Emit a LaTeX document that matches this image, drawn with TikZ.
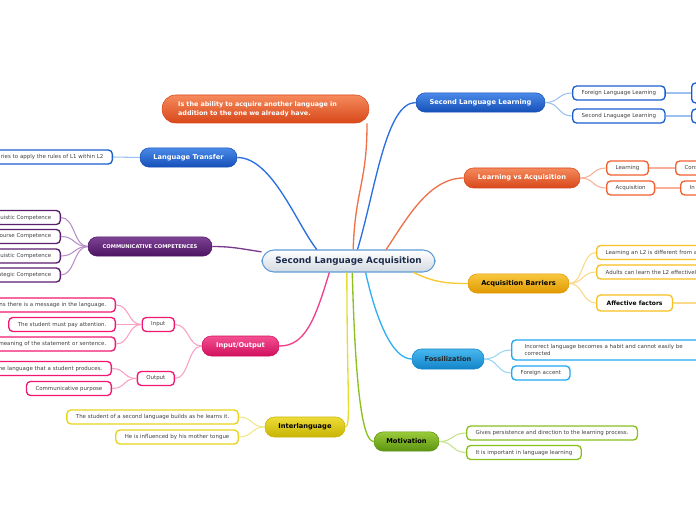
\documentclass[tikz,border=0pt]{standalone}
\usepackage{fontspec}
\setmainfont{DejaVu Sans}

\definecolor{cenbot}{HTML}{D3DAE2}
\definecolor{cenline}{HTML}{5D9AD6}
\definecolor{centext}{HTML}{1C2C4C}
\definecolor{bluetop}{HTML}{4A8AE8}
\definecolor{bluebot}{HTML}{1550B8}
\definecolor{blueline}{HTML}{2A6EE0}
\definecolor{bluelight}{HTML}{9CC0F0}
\definecolor{blueleaf}{HTML}{1A5FD0}
\definecolor{orgtop}{HTML}{F58A5C}
\definecolor{orgbot}{HTML}{D8481A}
\definecolor{orgline}{HTML}{F07048}
\definecolor{orglight}{HTML}{F8B098}
\definecolor{orgleaf}{HTML}{F06030}
\definecolor{goldtop}{HTML}{F8C840}
\definecolor{goldbot}{HTML}{E09800}
\definecolor{goldline}{HTML}{F8C830}
\definecolor{goldlight}{HTML}{FBD88A}
\definecolor{goldleaf}{HTML}{F8C020}
\definecolor{cyantop}{HTML}{48B8F0}
\definecolor{cyanbot}{HTML}{1284C8}
\definecolor{cyanline}{HTML}{30B0F0}
\definecolor{cyanlight}{HTML}{98D6F8}
\definecolor{cyanleaf}{HTML}{20A8F0}
\definecolor{greentop}{HTML}{9ACB3A}
\definecolor{greenbot}{HTML}{5C9410}
\definecolor{greenline}{HTML}{8CC020}
\definecolor{greenlight}{HTML}{C4E08A}
\definecolor{greenleaf}{HTML}{88C020}
\definecolor{yeltop}{HTML}{EEDC38}
\definecolor{yelbot}{HTML}{C8B404}
\definecolor{yelline}{HTML}{E8DC30}
\definecolor{yellight}{HTML}{F0E888}
\definecolor{yelleaf}{HTML}{E8D41C}
\definecolor{pinktop}{HTML}{F45092}
\definecolor{pinkbot}{HTML}{D0105E}
\definecolor{pinkline}{HTML}{F0408A}
\definecolor{pinklight}{HTML}{F8A0C4}
\definecolor{pinkleaf}{HTML}{F01870}
\definecolor{purtop}{HTML}{7E4294}
\definecolor{purbot}{HTML}{4C1462}
\definecolor{purline}{HTML}{7A3A8E}
\definecolor{purlight}{HTML}{B890C8}
\definecolor{purleaf}{HTML}{5A1D6E}

\tikzset{every picture/.style={line width=0.75pt}}
\tikzset{
  hub/.style={rounded corners=9pt, draw=cenline, line width=0.8pt, top color=white, bottom color=cenbot, text=centext, font=\fontsize{6.6}{8}\selectfont\bfseries, minimum height=16.5pt, minimum width=129.75pt},
  topic/.style 2 args={rounded corners=7pt, draw=#2, line width=0.4pt, top color=#1, bottom color=#2, minimum height=14.5pt, inner xsep=4pt, font=\fontsize{5}{6}\selectfont\bfseries},
  leaf/.style={draw=#1, fill=white, rounded corners=3pt, line width=1pt, minimum height=10.5pt, inner xsep=6.75pt, inner ysep=1pt, text=black!75, font=\fontsize{4.1}{5.5}\selectfont},
  cutleft/.style={text width=100pt, align=right},
  cutright/.style={text width=100pt, align=left},
  link/.style={draw=#1, line width=1pt},
  twig/.style={draw=#1, line width=0.8pt},
}

\begin{document}
\begin{tikzpicture}[x=0.75pt,y=0.75pt,yscale=-1,xscale=1]
\useasboundingbox (0,0) rectangle (696,520);

% Central topic
\node[hub] (sla) at (348.5,261) {Second Language Acquisition};

% Main topics
\node[topic={orgtop}{orgbot}, text=white, text width=131pt, align=left, inner xsep=12pt, minimum height=21pt, rounded corners=10pt, font=\fontsize{4.8}{6.5}\selectfont\bfseries] (callout) at (265.5,109) {Is the ability to acquire another language in\\addition to the one we already have.};
\node[topic={bluetop}{bluebot}, text=white, minimum width=96.75pt] (sll) at (480.5,102.5) {Second Language Learning};
\node[topic={orgtop}{orgbot}, text=white, minimum width=87pt, minimum height=15pt] (lva) at (522,178) {Learning vs Acquisition};
\node[topic={goldtop}{goldbot}, text=black, minimum width=75.75pt] (ab) at (518.5,283.5) {Acquisition Barriers};
\node[topic={cyantop}{cyanbot}, text=black!85, minimum width=54pt, minimum height=15pt] (fos) at (448,359) {Fossilization};
\node[topic={greentop}{greenbot}, text=black, minimum width=48.75pt] (mot) at (406.5,441.5) {Motivation};
\node[topic={yeltop}{yelbot}, text=black, minimum width=60pt, minimum height=15pt] (il) at (305,427) {Interlanguage};
\node[topic={pinktop}{pinkbot}, text=white, minimum width=57.75pt, minimum height=15pt] (io) at (240.5,346) {Input/Output};
\node[topic={purtop}{purbot}, text=white, minimum width=93pt, font=\fontsize{3.9}{5}\selectfont\bfseries] (cc) at (150,246.5) {COMMUNICATIVE COMPETENCES};
\node[topic={bluetop}{bluebot}, text=white, minimum width=72.75pt] (lt) at (188.5,157.5) {Language Transfer};

% Second Language Learning
\node[leaf=blueleaf, anchor=west] (fll) at (572,93) {Foreign Language Learning};
\node[leaf=blueleaf, anchor=west] (snll) at (572,116) {Second Lnaguage Learning};
\node[leaf=blueleaf, anchor=west, minimum width=40pt, minimum height=15pt] (fllg) at (691,93) {};
\node[leaf=blueleaf, anchor=west, minimum width=40pt] (snllg) at (691,116) {};

% Learning vs Acquisition
\node[leaf=orgleaf, anchor=west] (learn) at (606,168) {Learning};
\node[leaf=orgleaf, anchor=west] (acq) at (606,188) {Acquisition};
\node[leaf=orgleaf, anchor=west, cutright] (learng) at (675,168) {Cons};
\node[leaf=orgleaf, anchor=west, cutright] (acqg) at (680,188) {In};

% Acquisition Barriers
\node[leaf=goldleaf, anchor=west, cutright] (ab1) at (596,252.5) {Learning an L2 is different from a};
\node[leaf=goldleaf, anchor=west, cutright] (ab2) at (596,272) {Adults can learn the L2 effectivel};
\node[leaf=goldleaf, anchor=west, minimum height=12pt, inner xsep=7.5pt, text=black, font=\fontsize{4.5}{5.5}\selectfont\bfseries] (aff) at (596,303) {Affective factors};
\coordinate (affend) at (700,303);

% Fossilization
\node[leaf=cyanleaf, anchor=west, text width=140pt, align=left, inner xsep=9.75pt, minimum height=15pt] (fos1) at (511,350) {Incorrect language becomes a habit and cannot easily be\\corrected};
\node[leaf=cyanleaf, anchor=west] (fos2) at (511,373) {Foreign accent};

% Motivation
\node[leaf=greenleaf, anchor=west] (mot1) at (466,433) {Gives persistence and direction to the learning process.};
\node[leaf=greenleaf, anchor=west] (mot2) at (466,452.5) {It is important in language learning};

% Interlanguage
\node[leaf=yelleaf, anchor=east] (il1) at (239,417) {The student of a second language builds as he learns it.};
\node[leaf=yelleaf, anchor=east] (il2) at (239,437) {He is influenced by his mother tongue};

% Input/Output
\node[leaf=pinkleaf, anchor=east] (inp) at (175,324.5) {Input};
\node[leaf=pinkleaf, anchor=east] (outp) at (175,378.5) {Output};
\node[leaf=pinkleaf, anchor=east, cutleft] (in1) at (116,305) {ns there is a message in the language.};
\node[leaf=pinkleaf, anchor=east] (in2) at (116,324.5) {The student must pay attention.};
\node[leaf=pinkleaf, anchor=east, cutleft] (in3) at (116,344) {meaning of the statement or sentence.};
\node[leaf=pinkleaf, anchor=east, cutleft] (ou1) at (112,368.5) {ne language that a student produces.};
\node[leaf=pinkleaf, anchor=east] (ou2) at (112,388.5) {Communicative purpose};

% Communicative competences
\node[leaf=purleaf, anchor=east, cutleft] (cc1) at (61,217.5) {guistic Competence};
\node[leaf=purleaf, anchor=east, cutleft] (cc2) at (61,236.5) {course Competence};
\node[leaf=purleaf, anchor=east, cutleft] (cc3) at (61,256) {guistic Competence};
\node[leaf=purleaf, anchor=east, cutleft] (cc4) at (61,275) {ategic Competence};

% Language Transfer
\node[leaf=blueleaf, anchor=east, cutleft] (lt1) at (113,157) {ries to apply the rules of L1 within L2};

%Curve Lines: central topic to main topics
\draw[link=blueline] (sla.52) .. controls +(18,-60) and +(-30,0) .. (sll.west);
\draw[link=orgline] (sla.68) .. controls +(2,-60) and +(0,60) .. (callout.-8);
\draw[link=orgline] (sla.17) .. controls +(20,-30) and +(-35,0) .. (lva.west);
\draw[link=goldline] (sla.350) .. controls +(20,10) and +(-20,0) .. (ab.west);
\draw[link=cyanline] (sla.326) .. controls +(10,45) and +(-20,0) .. (fos.west);
\draw[link=greenline] (sla.288) .. controls +(3,110) and +(-12,0) .. (mot.west);
\draw[link=yelline] (sla.262) .. controls +(0,120) and +(6,0) .. (il.east);
\draw[link=pinkline] (sla.211) .. controls +(-15,50) and +(25,0) .. (io.east);
\draw[link=purline] (sla.174) .. controls +(-20,-3) and +(20,0) .. (cc.east);
\draw[link=blueline] (sla.160) .. controls +(-20,-25) and +(35,0) .. (lt.east);

%Curve Lines: right side
\draw[twig=bluelight] (sll.east) .. controls +(14,0) and +(-14,0) .. (fll.west);
\draw[twig=bluelight] (sll.east) .. controls +(14,0) and +(-14,0) .. (snll.west);
\draw[twig=bluelight] (fll.east) -- (fllg.west);
\draw[twig=bluelight] (snll.east) -- (snllg.west);
\draw[twig=orglight] (lva.east) .. controls +(14,0) and +(-14,0) .. (learn.west);
\draw[twig=orglight] (lva.east) .. controls +(14,0) and +(-14,0) .. (acq.west);
\draw[twig=orglight] (learn.east) -- (learng.west);
\draw[twig=orglight] (acq.east) -- (acqg.west);
\draw[twig=goldlight] (ab.east) .. controls +(14,0) and +(-14,0) .. (ab1.west);
\draw[twig=goldlight] (ab.east) .. controls +(14,0) and +(-14,0) .. (ab2.west);
\draw[twig=goldlight] (ab.east) .. controls +(14,0) and +(-14,0) .. (aff.west);
\draw[twig=goldlight] (aff.east) -- (affend);
\draw[twig=cyanlight] (fos.east) .. controls +(14,0) and +(-14,0) .. (fos1.west);
\draw[twig=cyanlight] (fos.east) .. controls +(14,0) and +(-14,0) .. (fos2.west);
\draw[twig=greenlight] (mot.east) .. controls +(14,0) and +(-14,0) .. (mot1.west);
\draw[twig=greenlight] (mot.east) .. controls +(14,0) and +(-14,0) .. (mot2.west);

%Curve Lines: left side
\draw[twig=yellight] (il.west) .. controls +(-14,0) and +(14,0) .. (il1.east);
\draw[twig=yellight] (il.west) .. controls +(-14,0) and +(14,0) .. (il2.east);
\draw[twig=pinklight] (io.west) .. controls +(-14,0) and +(14,0) .. (inp.east);
\draw[twig=pinklight] (io.west) .. controls +(-14,0) and +(14,0) .. (outp.east);
\draw[twig=pinklight] (inp.west) .. controls +(-14,0) and +(14,0) .. (in1.east);
\draw[twig=pinklight] (inp.west) .. controls +(-14,0) and +(14,0) .. (in2.east);
\draw[twig=pinklight] (inp.west) .. controls +(-14,0) and +(14,0) .. (in3.east);
\draw[twig=pinklight] (outp.west) .. controls +(-14,0) and +(14,0) .. (ou1.east);
\draw[twig=pinklight] (outp.west) .. controls +(-14,0) and +(14,0) .. (ou2.east);
\draw[twig=purlight] (cc.west) .. controls +(-14,0) and +(14,0) .. (cc1.east);
\draw[twig=purlight] (cc.west) .. controls +(-14,0) and +(14,0) .. (cc2.east);
\draw[twig=purlight] (cc.west) .. controls +(-14,0) and +(14,0) .. (cc3.east);
\draw[twig=purlight] (cc.west) .. controls +(-14,0) and +(14,0) .. (cc4.east);
\draw[twig=bluelight] (lt.west) .. controls +(-14,0) and +(14,0) .. (lt1.east);
\end{tikzpicture}
\end{document}
